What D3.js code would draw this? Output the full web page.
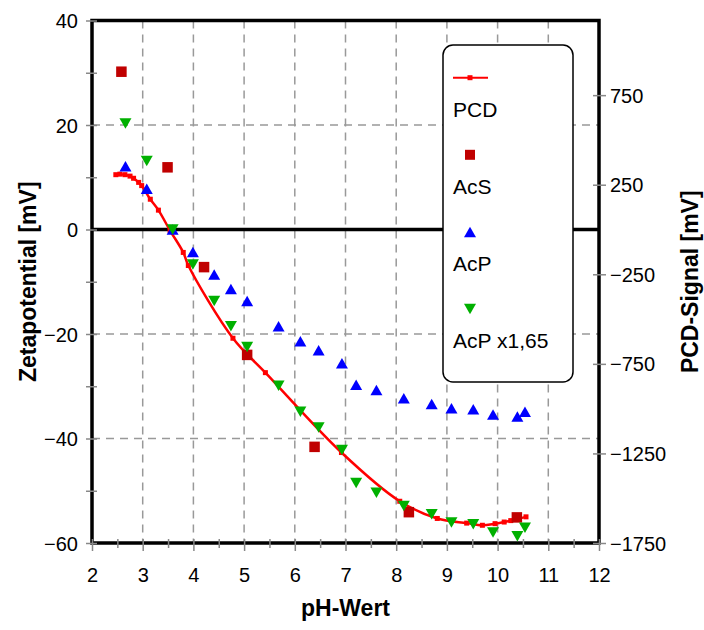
<!DOCTYPE html>
<html>
<head>
<meta charset="utf-8">
<script src="https://cdn.jsdelivr.net/npm/d3@7/dist/d3.min.js"></script>
<style>
  html, body { margin: 0; padding: 0; background: #fff; }
  svg { display: block; font-family: "Liberation Sans", Arial, sans-serif; }
</style>
</head>
<body>
<svg id="chart" width="704" height="630"></svg>
<script>
// ---------- data ----------
const xTicks = [2, 3, 4, 5, 6, 7, 8, 9, 10, 11, 12];
const leftTicks = [40, 20, 0, -20, -40, -60];
const rightTicks = [750, 250, -250, -750, -1250, -1750];

// PCD signal (right axis, mV)
const pcdPH     = [2.47, 2.55, 2.65, 2.75, 2.82, 2.92, 2.98, 3.15, 3.31, 3.54, 3.80, 3.90, 4.78, 5.42, 6.92, 8.07, 8.81, 9.39, 9.70, 9.95, 10.13, 10.26, 10.56];
const pcdSignal = [306, 309, 306, 298, 286, 263, 245, 169, 108, -6, -128, -201, -607, -799, -1245, -1517, -1613, -1639, -1651, -1642, -1633, -1625, -1604];

// AcS (left axis, mV)
const acsPH   = [2.58, 3.49, 4.21, 5.06, 6.39, 8.25, 10.38];
const acsZeta = [30.2, 11.9, -7.2, -24.0, -41.6, -54.1, -55.1];

// AcP (left axis, mV)
const acpPH   = [2.66, 3.08, 3.59, 3.99, 4.41, 4.74, 5.06, 5.68, 6.11, 6.47, 6.93, 7.21, 7.61, 8.15, 8.70, 9.09, 9.52, 9.91, 10.39, 10.54];
const acpZeta = [12.1, 7.8, 0.0, -4.3, -8.6, -11.4, -13.7, -18.5, -21.4, -23.1, -25.6, -29.7, -30.7, -32.3, -33.4, -34.2, -34.4, -35.4, -35.8, -34.9];

// AcP x1,65 (left axis, mV)
const acp165Zeta = [20.3, 13.1, 0.0, -6.7, -13.7, -18.5, -22.5, -29.9, -34.9, -37.9, -42.2, -48.5, -50.4, -52.9, -54.5, -56.1, -56.4, -58.0, -58.7, -57.1];

const legendLabels = ["PCD", "AcS", "AcP", "AcP x1,65"];

// ---------- layout ----------
const svg = d3.select("#chart");
const L = 92, R = 599, T = 20.5, B = 543;
const x = d3.scaleLinear().domain([2, 12]).range([L, R]);
const yL = d3.scaleLinear().domain([-60, 40]).range([B, T]);
const yR = d3.scaleLinear().domain([-1750, 1750 * 40 / 60]).range([B, T]);

const gridColor = "#999";
const tickColor = "#888";
const RED = "#ff0000", DRED = "#c00000", BLUE = "#0000ff", GREEN = "#00b000";

// grid lines
const g = svg.append("g");
g.selectAll("line.vg").data(xTicks.filter(d => d > 2 && d < 12)).join("line")
  .attr("x1", d => x(d)).attr("x2", d => x(d)).attr("y1", T).attr("y2", B)
  .attr("stroke", gridColor).attr("stroke-width", 1.5).attr("stroke-dasharray", "8,6");
g.selectAll("line.hg").data(leftTicks.filter(d => d !== 0 && d > -60 && d < 40)).join("line")
  .attr("x1", L).attr("x2", R).attr("y1", d => yL(d)).attr("y2", d => yL(d))
  .attr("stroke", gridColor).attr("stroke-width", 1.5).attr("stroke-dasharray", "8,6");

// zero line
svg.append("line").attr("x1", L).attr("x2", R).attr("y1", yL(0)).attr("y2", yL(0))
  .attr("stroke", "#000").attr("stroke-width", 3.5);

// frame
svg.append("rect").attr("x", L).attr("y", T).attr("width", R - L).attr("height", B - T)
  .attr("fill", "none").attr("stroke", "#000").attr("stroke-width", 3.5);

// axes via d3 axis generators
const fmt = d3.format("d");
const axB = svg.append("g").attr("transform", `translate(0,${B})`)
  .call(d3.axisBottom(x).tickValues(d3.range(2, 12.01, 0.5)).tickSize(0).tickFormat(""));
axB.select(".domain").remove();
axB.selectAll(".tick line").remove();
axB.selectAll(".tick").append("line")
  .attr("y1", -4).attr("y2", d => Number.isInteger(d) ? 8 : 5)
  .attr("stroke", tickColor).attr("stroke-width", 1.5);
const axBL = svg.append("g").attr("transform", `translate(0,${B})`)
  .call(d3.axisBottom(x).tickValues(xTicks).tickSize(0).tickPadding(0).tickFormat(fmt));
axBL.select(".domain").remove();
axBL.selectAll("text").attr("y", 39).attr("dy", 0).attr("font-size", 20)
  .attr("font-family", "Liberation Sans, Arial, sans-serif").attr("fill", "#000");

const axLt = svg.append("g").attr("transform", `translate(${L},0)`)
  .call(d3.axisLeft(yL).tickValues(d3.range(-60, 40.01, 10)).tickSize(0).tickFormat(""));
axLt.select(".domain").remove();
axLt.selectAll(".tick line").remove();
axLt.selectAll(".tick").append("line")
  .attr("x1", -6).attr("x2", 5).attr("stroke", tickColor).attr("stroke-width", 1.5);
const axLl = svg.append("g").attr("transform", `translate(${L},0)`)
  .call(d3.axisLeft(yL).tickValues(leftTicks).tickSize(0).tickPadding(14).tickFormat(fmt));
axLl.select(".domain").remove();
axLl.selectAll("text").attr("font-size", 20).attr("dy", "0.35em")
  .attr("font-family", "Liberation Sans, Arial, sans-serif").attr("fill", "#000");

const axR = svg.append("g").attr("transform", `translate(${R},0)`)
  .call(d3.axisRight(yR).tickValues(rightTicks).tickSize(0).tickPadding(11).tickFormat(fmt));
axR.select(".domain").remove();
axR.selectAll(".tick line").remove();
axR.selectAll(".tick").append("line")
  .attr("x1", -6).attr("x2", 7).attr("stroke", tickColor).attr("stroke-width", 1.5);
axR.selectAll("text").attr("font-size", 20).attr("dy", "0.35em")
  .attr("font-family", "Liberation Sans, Arial, sans-serif").attr("fill", "#000");

// axis titles
svg.append("text").attr("transform", `translate(36,${(T + B) / 2}) rotate(-90)`)
  .attr("text-anchor", "middle").attr("font-size", 23).attr("font-weight", "bold")
  .text("Zetapotential [mV]");
svg.append("text").attr("transform", `translate(698,${(T + B) / 2}) rotate(-90)`)
  .attr("text-anchor", "middle").attr("font-size", 23).attr("font-weight", "bold")
  .text("PCD-Signal [mV]");
svg.append("text").attr("x", (L + R) / 2).attr("y", 616)
  .attr("text-anchor", "middle").attr("font-size", 23).attr("font-weight", "bold")
  .text("pH-Wert");

// ---------- series ----------
const pcd = pcdPH.map((p, i) => ({ x: p, y: pcdSignal[i] }));
const line = d3.line().x(d => x(d.x)).y(d => yR(d.y)).curve(d3.curveCatmullRom.alpha(0.5));
svg.append("path").datum(pcd).attr("d", line)
  .attr("fill", "none").attr("stroke", RED).attr("stroke-width", 2.5);
svg.append("g").selectAll("rect").data(pcd).join("rect")
  .attr("x", d => x(d.x) - 2.5).attr("y", d => yR(d.y) - 2.5)
  .attr("width", 5).attr("height", 5).attr("fill", RED);

const sq = 10.5;
svg.append("g").selectAll("rect").data(acsPH.map((p, i) => ({ x: p, y: acsZeta[i] }))).join("rect")
  .attr("x", d => x(d.x) - sq / 2).attr("y", d => yL(d.y) - sq / 2)
  .attr("width", sq).attr("height", sq).attr("fill", DRED);

const tw = 12, th = 10.5;
const triUp = (cx, cy) => `M${cx},${cy - th / 2}L${cx + tw / 2},${cy + th / 2}L${cx - tw / 2},${cy + th / 2}Z`;
const triDn = (cx, cy) => `M${cx},${cy + th / 2}L${cx + tw / 2},${cy - th / 2}L${cx - tw / 2},${cy - th / 2}Z`;

svg.append("g").selectAll("path").data(acpPH.map((p, i) => ({ x: p, y: acpZeta[i] }))).join("path")
  .attr("d", d => triUp(x(d.x), yL(d.y))).attr("fill", BLUE);
svg.append("g").selectAll("path").data(acpPH.map((p, i) => ({ x: p, y: acp165Zeta[i] }))).join("path")
  .attr("d", d => triDn(x(d.x), yL(d.y))).attr("fill", GREEN);

// ---------- legend ----------
const lg = svg.append("g");
lg.append("rect").attr("x", 443).attr("y", 45).attr("width", 130).attr("height", 337)
  .attr("rx", 10).attr("ry", 10).attr("fill", "#fff").attr("stroke", "#000").attr("stroke-width", 1.5);
const mx = 470, step = 77.1, my0 = 77.7, ty0 = 117;
lg.append("line").attr("x1", 453).attr("x2", 488).attr("y1", my0).attr("y2", my0)
  .attr("stroke", RED).attr("stroke-width", 2);
lg.append("rect").attr("x", mx - 2.5).attr("y", my0 - 2.5).attr("width", 5).attr("height", 5).attr("fill", RED);
lg.append("rect").attr("x", mx - 5).attr("y", my0 + step - 5).attr("width", 10).attr("height", 10).attr("fill", DRED);
lg.append("path").attr("d", triUp(mx, my0 + 2 * step)).attr("fill", BLUE);
lg.append("path").attr("d", triDn(mx, my0 + 3 * step)).attr("fill", GREEN);
lg.selectAll("text").data(legendLabels).join("text")
  .attr("x", 453).attr("y", (d, i) => ty0 + i * step)
  .attr("font-size", 21).attr("fill", "#000").text(d => d);
</script>
</body>
</html>
